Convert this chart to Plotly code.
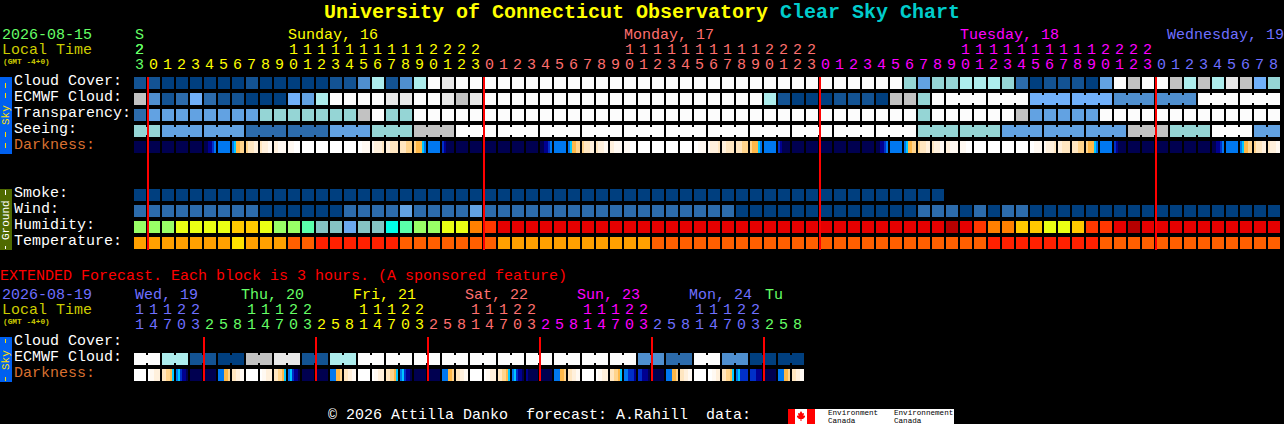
import plotly.graph_objects as go

# ---------- data (palette levels) ----------
cloud_cover = [1,1,0,0,0,0,0,0,1,0,0,0,0,0,1,1,3,7,1,3,7,10,9,10,10,10,10,10,10,10,10,10,10,10,10,10,10,10,10,10,10,10,10,10,10,10,10,10,10,10,10,10,10,10,10,6,4,6,6,7,7,7,6,2,0,1,1,1,0,4,10,8,10,10,8,7,8,7,9,8,5,6]
ecmwf_cloud = [8,3,1,2,5,2,1,1,0,0,0,5,4,7,10,10,10,10,9,9,10,10,9,8,9,10,10,10,10,10,10,10,10,10,10,10,10,10,10,10,10,10,10,10,10,7,1,0,0,0,1,1,1,0,8,8,6,10,10,10,10,10,10,10,5,5,5,5,5,5,3,3,3,3,3,3,10,10,10,10,10,10]
transparency = [2,4,4,4,4,4,4,4,4,6,6,6,6,6,6,6,8,10,6,6,10,10,10,10,10,10,10,10,10,10,10,10,10,10,10,10,10,10,10,10,10,10,10,10,10,10,10,10,10,10,10,10,10,10,10,10,6,10,10,10,10,10,10,8,4,4,4,4,4,10,10,10,10,10,10,10,10,10,10,10,10,10]
seeing = [6,6,4,4,4,4,4,4,2,2,2,2,2,2,4,4,4,6,6,6,8,8,8,10,10,10,10,10,10,10,10,10,10,10,10,10,10,10,10,10,10,10,10,10,10,10,10,10,10,10,10,10,10,10,10,10,6,6,6,6,6,6,4,4,4,4,4,4,4,4,4,8,8,8,6,6,6,10,10,10,4,4]
smoke = [0,0,0,0,0,0,0,0,0,0,0,0,0,0,0,0,0,0,0,0,0,0,0,0,0,0,0,0,0,0,0,0,0,0,0,0,0,0,0,0,0,0,0,0,0,0,0,0,0,0,0,0,0,0,0,0,0,0]
wind = [2,2,2,2,2,2,2,2,2,0,0,0,0,0,0,2,2,2,2,4,2,2,2,2,4,2,2,2,2,2,2,2,2,2,2,2,2,2,2,2,2,2,2,0,0,0,0,0,0,0,0,0,0,0,0,0,2,2,2,0,2,0,2,2,0,0,0,0,0,0,0,0,0,0,0,0,0,0,0,0,0,0]
humidity = ["a","a","a","b","b","b","b","c","c","b","a","a","h","i","i","j","i","i","k","h","a","a","b","b","d","e",
            "f","f","f","f","f","f","f","f","f","f","f","f","f","f","f","f","f","f","f","f","f","f","f","f","f","f","f","f","f","f","f","f",
            "g","f","e","d","d","c","c","b","b","c","e","e","f","g","f","f","f","f","f","f","f","f","f","f"]
temperature = [
    "t1","t1","t1","t1","t1","t1","t1","t0","t1","t1","t1","t2","t2","t3","t3","t3","t3","t3","t3","t2","t2","t2","t2","t2","t2","t2",
    "t1","t1","t1","t1","t1","t1","t1","t1","t1","t1","t1",
    "t2","t2","t2","t2","t2","t2","t2","t2","t2","t2","t2","t2","t2","t2","t2","t2","t2","t2","t2","t2","t2","t2","t2","t2",
    "t3","t3","t3","t3","t3","t3","t3","t3",
    "t2","t2","t2","t2","t2","t2","t2","t2","t2","t2","t2","t2","t2"]
darkness = ["nnnnnn","nnnnnn","nnnnnn","nnnnnn","nnnnnn","nnkkba","aaaaaa","acoopp","pqqqrr","qrrrss","rrssss","ssswww","wwwwww","wwwwww","wwwwww","wwwwww",
            "wwssss","srrrrq","rrqqqq","qqqppp","poooca","aaaaaa","bknnnn","nnnnnn","nnnnnn","nnnnnn","nnnnnn","nnnnnn","nnnnnn","nnkkba","aaaaaa","acoopp","pqqqrr","qrrrss","rrssss","ssswww",
            "wwwwww","wwwwww","wwwwww","wwwwww","wwssss","srrrrq","rrqqqq","qqqppp","poooca","aaaaaa","bknnnn","nnnnnn","nnnnnn","nnnnnn","nnnnnn","nnnnnn","nnnnnn",
            "nnkkba","aaaaaa","acoopp","pqqqrr","qrrrss","rrssss","ssswww","wwwwww","wwwwww","wwwwww","wwwwww","wwssss","srrrrq","rrqqqq","qqqppp","poooca","aaaaaa","bknnnn",
            "nnnnnn","nnnnnn","nnnnnn","nnnnnn","nnnnnn","nnnnnn","nnkkba","aaaaaa","acoopp","pqqqrr","qrrrss"]
ext_ecmwf = [10,10,7,7,1,1,0,0,8,8,9,9,1,1,7,7,10,10,10,10,10,10,10,10,10,10,10,10,10,10,10,10,10,10,10,10,3,3,2,2,10,10,3,3,0,0,0,0]
ext_darkness = ["wwwwww","wssrrr","qqppoc","acbkkn","nnnnnn","nnnnnn","aaaoop","qqrrss","wwwwww","wssrrr","qqppoc","acbkkn","nnnnnn","nnnnnn","aaaoop","qqrrss",
                "wwwwww","wssrrr","qqppoc","acbkkn","nnnnnn","nnnnnn","aaaoop","qqrrss","wwwwww","wssrrr","qqppoc","acbkkn","knnnnn","nnnnnn","aaaoop","qqrrss",
                "wwwwww","wssrrr","qqppoc","aabbbk","bbkkkn","nnnnnn","aaaoop","qqrrss","wwwwww","wwssrr","qqppoc","acbbbb","bbbkkk","nnnnnn","aaaoop","qqrrss"]
hours = [23,0,1,2,3,4,5,6,7,8,9,10,11,12,13,14,15,16,17,18,19,20,21,22,23,0,1,2,3,4,5,6,7,8,9,10,11,12,13,14,15,16,17,18,19,20,21,22,23,0,1,2,3,4,5,6,7,8,9,10,11,12,13,14,15,16,17,18,19,20,21,22,23,0,1,2,3,4,5,6,7,8]
hour_day = ["S"]+["sun"]*24+["mon"]*24+["tue"]*24+["wed"]*9
ext_hours = [11,14,17,20,23,2,5,8,11,14,17,20,23,2,5,8,11,14,17,20,23,2,5,8,11,14,17,20,23,2,5,8,11,14,17,20,23,2,5,8,11,14,17,20,23,2,5,8]
ext_day = ["wed"]*5+["S"]*8+["sun"]*8+["mon"]*8+["tue"]*8+["wed"]*8+["S"]*3
row_labels = ["Cloud Cover:","ECMWF Cloud:","Transparency:","Seeing:","Darkness:"]
ground_labels = ["Smoke:","Wind:","Humidity:","Temperature:"]
ext_labels = ["Cloud Cover:","ECMWF Cloud:","Darkness:"]
main_days = [("S",0,"S"),("Sunday, 16",11,"sun"),("Monday, 17",35,"mon"),("Tuesday, 18",59,"tue"),("Wednesday, 19",73.8,"wed")]
ext_days = [("Wed, 19",0,"wed"),("Thu, 20",7.6,"S"),("Fri, 21",15.6,"sun"),("Sat, 22",23.6,"mon"),("Sun, 23",31.6,"tue"),("Mon, 24",39.6,"wed"),("Tu",45,"S")]

# ---------- styles ----------
LEVEL = {0:"#003f7f",1:"#135393",2:"#2c6bab",3:"#4f8fcf",4:"#62a2e2",5:"#70b0fa",6:"#95d5d5",7:"#adeded",8:"#c2c2c2",9:"#e8e8e8",10:"#fcfcfc"}
HUM = {"a":"#99ff66","b":"#eaff14","c":"#ffc800","d":"#ff8000","e":"#ff3700","f":"#e60000","g":"#b70000","h":"#5affaa","i":"#85c4c4","j":"#6ba9ee","k":"#00ffe8"}
TEMP = {"t0":"#ffe000","t1":"#ffa000","t2":"#ff5f00","t3":"#ff2000"}
DARK = {"n":"#000050","k":"#000090","b":"#0030c8","a":"#0078f0","c":"#00c8ff","o":"#ffb848","p":"#ffd48c","q":"#ffe6c0","r":"#fff0dc","s":"#fff9f2","w":"#ffffff"}
DAY = {"S":"#66ff66","sun":"#ffff00","mon":"#ff6f6f","tue":"#ff00ff","wed":"#6f6fff"}
MONO = "Liberation Mono"
X0, STEP, CELL = 134, 14, 12

def left(i): return X0 + STEP * i

fig = go.Figure()

def add_cells(vals, top, pal):
    xs = [left(i) + CELL/2 for i in range(len(vals))]
    fig.add_bar(x=xs, y=[CELL]*len(vals), base=[top]*len(vals), width=[CELL]*len(vals),
                marker=dict(color=[pal[v] for v in vals], line=dict(width=0)), hoverinfo="skip")

def add_bridges(vals, top, pal, groups):
    xs, cs = [], []
    for a, b in groups:
        for i in range(a, b):
            xs.append(left(i) + CELL + 1); cs.append(pal[vals[i]])
    fig.add_bar(x=xs, y=[8]*len(xs), base=[top+2]*len(xs), width=[2]*len(xs),
                marker=dict(color=cs, line=dict(width=0)), hoverinfo="skip")

def add_strips(cells, top):
    xs, cs = [], []
    for i, c in enumerate(cells):
        for k, ch in enumerate(c):
            xs.append(left(i) + 2*k + 1); cs.append(DARK[ch])
    fig.add_bar(x=xs, y=[CELL]*len(xs), base=[top]*len(xs), width=[2]*len(xs),
                marker=dict(color=cs, line=dict(width=0)), hoverinfo="skip")

add_cells(cloud_cover, 77, LEVEL)
add_cells(ecmwf_cloud, 93, LEVEL)
add_bridges(ecmwf_cloud, 93, LEVEL, [(k, k+2) for k in range(58, 80, 3)])
add_cells(transparency, 109, LEVEL)
add_cells(seeing, 125, LEVEL)
add_bridges(seeing, 125, LEVEL, [(0, 1)] + [(k, k+2) for k in range(2, 78, 3)] + [(80, 81)])
add_strips(darkness, 141)
add_cells(smoke, 189, LEVEL)
add_cells(wind, 205, LEVEL)
add_cells(humidity, 221, HUM)
add_cells(temperature, 237, TEMP)
add_cells(ext_ecmwf, 353, LEVEL)
add_bridges(ext_ecmwf, 353, LEVEL, [(k, k+1) for k in range(0, 48, 2)])
add_strips(ext_darkness, 369)

def add_digits(vals, colors, y):
    idx = [i for i, v in enumerate(vals) if v != ""]
    fig.add_scatter(x=[left(i) + 5.5 for i in idx], y=[y]*len(idx), mode="text",
                    text=[vals[i] for i in idx], textposition="middle center",
                    textfont=dict(family=MONO, size=15, color=[colors[i] for i in idx]),
                    hoverinfo="skip")

day_col = [DAY[d] for d in hour_day]
add_digits([str(h % 10) for h in hours], day_col, 65.5)
add_digits([str(h // 10) if h >= 10 else "" for h in hours], day_col, 50.5)
ext_col = [DAY[d] for d in ext_day]
add_digits([str(h % 10) for h in ext_hours], ext_col, 325.5)
add_digits([str(h // 10) if h >= 10 else "" for h in ext_hours], ext_col, 310.5)

shapes = []
def rect(x0, y0, x1, y1, color, layer="below"):
    shapes.append(dict(type="rect", xref="x", yref="y", x0=x0, x1=x1, y0=y0, y1=y1,
                       fillcolor=color, line=dict(width=0), layer=layer))

# red "now / midnight" markers, on top of the cells
for hx in range(4):
    rect(147 + 336*hx, 77, 149 + 336*hx, 250, "#ff0000", "above")
for hx in range(6):
    rect(203 + 112*hx, 337, 205 + 112*hx, 381, "#ff0000", "above")
# side bars
rect(0, 77, 12, 154, "#0060f0")
rect(0, 189, 12, 250, "#4f6a00")
rect(0, 337, 12, 382, "#0060f0")
for y0, y1 in [(83,88),(93,98),(132,137),(143,148),(339,343),(377,381)]:
    rect(5, y0, 6, y1, "#ffe000")
for y0, y1 in [(190,195),(246,249)]:
    rect(5, y0, 6, y1, "#ffffff")
# logo
rect(788, 409, 954, 424, "#ffffff")
rect(788, 409, 795, 424, "#ff0000")
rect(807, 409, 815, 424, "#ff0000")
shapes.append(dict(type="path", xref="x", yref="y", fillcolor="#ff0000", line=dict(width=0),
                   path="M801,411 L802.5,413.5 L804,413 L803.5,416 L805,415.5 L805,417 L803,419 L801.5,419 L801.5,421 L800.5,421 L800.5,419 L799,419 L797,417 L797,415.5 L798.5,416 L798,413 L799.5,413.5 Z"))

ann = []
def text(x, y, s, color, size=15, bold=False, family=MONO, angle=0, anchor="left"):
    if size == 15:
        y = y + 0.7
    ann.append(dict(x=x, y=y, xref="x", yref="y", text=f"<b>{s}</b>" if bold else s, showarrow=False,
                    xanchor=anchor, yanchor="middle", borderpad=0, borderwidth=0, textangle=angle,
                    font=dict(family=family, size=size, color=color)))

# title
text(324, 12, "University of Connecticut Observatory", "#ffff00", 20, True)
text(780, 12, "Clear Sky Chart", "#00cccc", 20, True)
# header left
text(2, 35, "2026-08-15", "#66ff66")
text(2, 50, "Local Time", "#cccc00")
text(3, 62, "(GMT -4+0)", "#cccc00", 7.8, True)
for s, c, d in main_days:
    text(left(c) + (0 if c else 1), 35, s, DAY[d])
text(left(0)+1, 50, "2", DAY["S"])
# row labels
for k, s in enumerate(row_labels):
    text(14, 81 + 16*k, s, "#d87030" if s.startswith("Dark") else "#ffffff")
for k, s in enumerate(ground_labels):
    text(14, 193 + 16*k, s, "#ffffff")
text(6, 115, "Sky", "#ffe000", 11, angle=-90, anchor="center")
text(6, 220, "Ground", "#ffffff", 11, angle=-90, anchor="center")
# extended
text(0, 276, "EXTENDED Forecast. Each block is 3 hours. (A sponsored feature)", "#ff0000")
text(2, 295, "2026-08-19", "#6f6fff")
text(2, 310, "Local Time", "#cccc00")
text(3, 322, "(GMT -4+0)", "#cccc00", 7.8, True)
for s, c, d in ext_days:
    text(left(c) + 1, 295, s, DAY[d])
for k, s in enumerate(ext_labels):
    text(14, 341 + 16*k, s, "#d87030" if s.startswith("Dark") else "#ffffff")
text(6, 360, "Sky", "#ffe000", 11, angle=-90, anchor="center")
# footer
text(328, 415, "© 2026 Attilla Danko\u00a0\u00a0forecast: A.Rahill\u00a0\u00a0data:", "#ffffff")
text(828, 412.5, "Environment", "#000000", 7.6)
text(828, 420.5, "Canada", "#000000", 7.6)
text(894, 412.5, "Environnement", "#000000", 7.6)
text(894, 420.5, "Canada", "#000000", 7.6)

fig.update_layout(
    width=1284, height=424, margin=dict(l=0, r=0, t=0, b=0), paper_bgcolor="#000000", plot_bgcolor="#000000",
    showlegend=False, barmode="overlay", bargap=0,
    xaxis=dict(range=[0, 1284], visible=False, fixedrange=True),
    yaxis=dict(range=[424, 0], visible=False, fixedrange=True),
    shapes=shapes, annotations=ann)

fig.write_html("out.html", config=dict(displayModeBar=False),
               post_script="document.body.style.margin='0';document.body.style.overflow='hidden';document.body.style.background='#000';")
